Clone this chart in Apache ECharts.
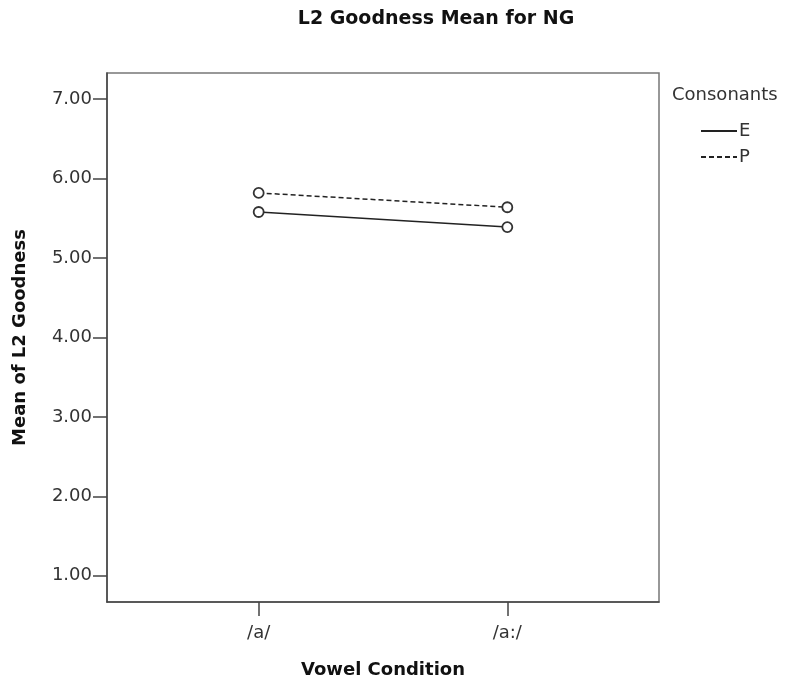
<!DOCTYPE html>
<html>
<head>
<meta charset="utf-8">
<script src="https://cdn.jsdelivr.net/npm/echarts@6/dist/echarts.min.js"></script>
<style>html,body{margin:0;padding:0;background:#fff}#c{width:791px;height:686px}</style>
</head>
<body>
<div id="c"></div>
<script>
const categories = ['/a/', '/a:/'];
const seriesNames = ['E', 'P'];
const valuesE = [5.58, 5.39];
const valuesP = [5.82, 5.64];
const yTicks = [1, 2, 3, 4, 5, 6, 7];

const FONT = 'DejaVu Sans';
const chart = echarts.init(document.getElementById('c'), null, {renderer: 'canvas'});
const toPts = arr => arr.map((v, i) => [i, v]);
const symStyle = {color: '#fff', borderColor: '#333', borderWidth: 1.8};

chart.setOption({
  animation: false,
  backgroundColor: '#fff',
  title: [{
    text: 'L2 Goodness Mean for NG',
    left: 436, top: 10, textAlign: 'center', padding: 0,
    textStyle: {fontFamily: FONT, fontSize: 19, fontWeight: 'bold', color: '#111'}
  }, {
    text: 'Consonants',
    left: 672, top: 86, padding: 0,
    textStyle: {fontFamily: FONT, fontSize: 18, fontWeight: 'normal', color: '#333'}
  }],
  legend: {
    orient: 'vertical', left: 700, top: 122, padding: 0,
    itemWidth: 36, itemHeight: 14, itemGap: 8,
    data: seriesNames,
    itemStyle: {opacity: 0},
    textStyle: {fontFamily: FONT, fontSize: 18, color: '#333', padding: [0, 0, 0, -3]}
  },
  grid: {
    left: 107, top: 73, right: 132, bottom: 84,
    show: true, borderColor: '#777', borderWidth: 1.5
  },
  xAxis: {
    type: 'value', min: -0.61, max: 1.61,
    name: 'Vowel Condition', nameLocation: 'middle', nameGap: 59,
    nameTextStyle: {fontFamily: FONT, fontSize: 18, fontWeight: 'bold', color: '#111'},
    axisLine: {show: true, onZero: false, lineStyle: {color: '#444', width: 1.5}},
    axisTick: {show: true, length: 14, customValues: [0, 1], lineStyle: {color: '#444', width: 1.5}},
    axisLabel: {customValues: [0, 1], margin: 22, fontFamily: FONT, fontSize: 18, color: '#333',
      formatter: v => categories[Math.round(v)]},
    splitLine: {show: false}
  },
  yAxis: {
    type: 'value', min: 0.67, max: 7.33,
    name: 'Mean of L2 Goodness', nameLocation: 'middle', nameGap: 78,
    nameTextStyle: {fontFamily: FONT, fontSize: 18, fontWeight: 'bold', color: '#111'},
    axisLine: {show: true, onZero: false, lineStyle: {color: '#444', width: 1.5}},
    axisTick: {show: true, length: 14, customValues: yTicks, lineStyle: {color: '#444', width: 1.5}},
    axisLabel: {customValues: yTicks, margin: 15, fontFamily: FONT, fontSize: 18, color: '#333',
      formatter: v => v.toFixed(2)},
    splitLine: {show: false}
  },
  series: [{
    name: 'E', type: 'line', data: toPts(valuesE),
    symbol: 'circle', symbolSize: 10, itemStyle: symStyle,
    lineStyle: {color: '#222', width: 1.5, type: 'solid'}
  }, {
    name: 'P', type: 'line', data: toPts(valuesP),
    symbol: 'circle', symbolSize: 10, itemStyle: symStyle,
    lineStyle: {color: '#222', width: 1.5, type: [5, 3]}
  }]
});
</script>
</body>
</html>
